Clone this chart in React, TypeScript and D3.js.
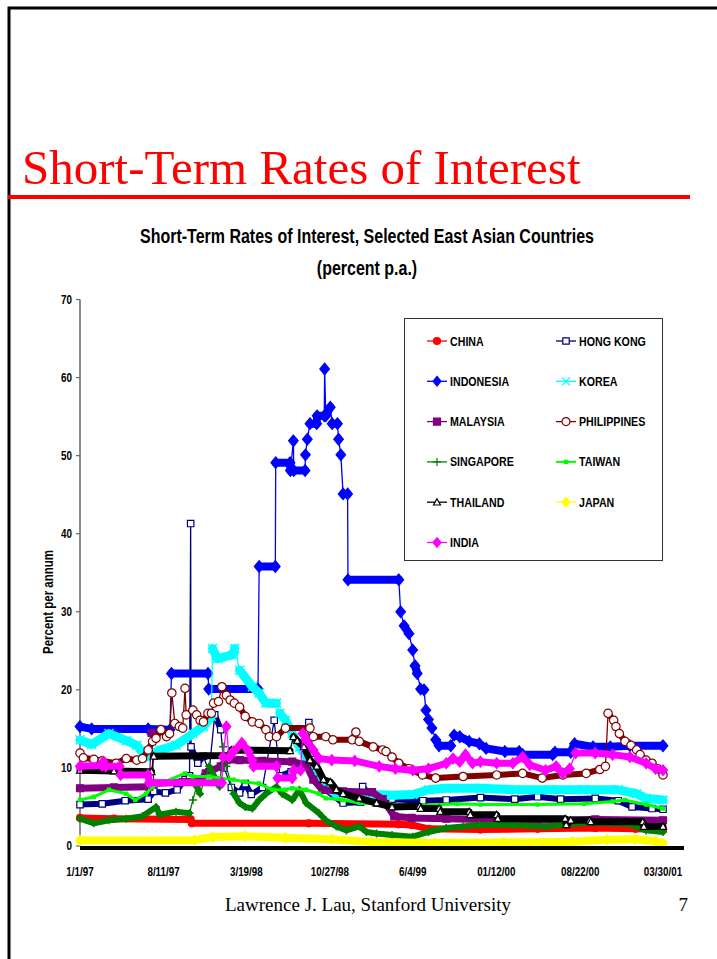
import React, { useEffect, useRef } from "react";
import * as d3 from "d3";

type Pt = [string, number];

// x axis: category labels placed at their dates
const xTickDates = ["1997-01-01", "1997-08-11", "1998-03-19", "1998-10-27", "1999-06-04", "2000-01-12", "2000-08-22", "2001-03-30"];
const xTickLabels = ["1/1/97", "8/11/97", "3/19/98", "10/27/98", "6/4/99", "01/12/00", "08/22/00", "03/30/01"];
const yTicks = [0, 10, 20, 30, 40, 50, 60, 70];

// values (percent p.a.)
const china: Pt[] = [
  ["1997-01-01", 3.6], ["1997-04-01", 3.5], ["1997-10-22", 3.4], ["1997-10-25", 2.9], ["1998-09-01", 2.9],
  ["1999-04-28", 2.8], ["1999-06-01", 2.7], ["1999-07-16", 2.2], ["1999-12-01", 2.1], ["2000-05-01", 2.2],
  ["2000-10-01", 2.3], ["2001-01-16", 2.2], ["2001-03-30", 2.1],
];
const hongKong: Pt[] = [
  ["1997-01-01", 5.3], ["1997-03-01", 5.4], ["1997-05-01", 5.8], ["1997-07-01", 6.0], ["1997-07-16", 7.0],
  ["1997-08-16", 6.8], ["1997-09-16", 7.2], ["1997-10-07", 8.5], ["1997-10-19", 9.0], ["1997-10-22", 41.3],
  ["1997-10-23", 12.7], ["1997-11-10", 10.6], ["1997-11-25", 11.5], ["1997-12-10", 9.5], ["1997-12-25", 16.8],
  ["1998-01-10", 14.9], ["1998-01-19", 10.0], ["1998-02-07", 7.5], ["1998-03-01", 6.8], ["1998-03-16", 8.0],
  ["1998-04-01", 6.6], ["1998-05-01", 7.5], ["1998-06-01", 16.1], ["1998-06-16", 9.0], ["1998-07-16", 9.5],
  ["1998-08-25", 10.5], ["1998-09-01", 15.8], ["1998-09-13", 11.9], ["1998-10-16", 7.2], ["1998-12-01", 5.5],
  ["1999-01-16", 5.6], ["1999-01-22", 7.6], ["1999-03-01", 5.5], ["1999-04-10", 6.0], ["1999-07-01", 5.8],
  ["1999-09-01", 5.9], ["1999-12-01", 6.2], ["2000-03-01", 6.0], ["2000-05-01", 6.3], ["2000-07-01", 6.0],
  ["2000-10-01", 6.1], ["2000-12-01", 5.8], ["2001-01-07", 5.0], ["2001-03-01", 4.8], ["2001-03-30", 4.7],
];
const indonesia: Pt[] = [
  ["1997-01-01", 15.3], ["1997-02-01", 15.0], ["1997-07-01", 15.0], ["1997-08-28", 14.9], ["1997-09-01", 22.1],
  ["1997-12-07", 22.1], ["1997-12-09", 20.1], ["1998-04-19", 20.1], ["1998-04-22", 35.8], ["1998-06-04", 35.8],
  ["1998-06-05", 49.1], ["1998-07-13", 49.1], ["1998-07-14", 48.1], ["1998-07-22", 51.9], ["1998-07-23", 48.1],
  ["1998-08-22", 48.1], ["1998-08-23", 50.1], ["1998-08-28", 52.1], ["1998-09-04", 54.1], ["1998-09-22", 54.1],
  ["1998-09-23", 55.1], ["1998-10-12", 55.1], ["1998-10-13", 61.1], ["1998-10-16", 55.1], ["1998-10-28", 56.2],
  ["1998-11-02", 54.1], ["1998-11-16", 54.1], ["1998-11-19", 52.1], ["1998-11-25", 50.1], ["1998-12-01", 45.1],
  ["1998-12-13", 45.1], ["1998-12-14", 34.1], ["1999-04-28", 34.1], ["1999-05-03", 30.0], ["1999-05-12", 28.2],
  ["1999-05-25", 27.2], ["1999-06-04", 25.1], ["1999-06-10", 23.1], ["1999-06-16", 22.1], ["1999-06-25", 20.1],
  ["1999-07-04", 20.0], ["1999-07-09", 17.4], ["1999-07-16", 16.2], ["1999-07-25", 15.1], ["1999-08-04", 13.6],
  ["1999-08-13", 12.85], ["1999-09-13", 12.85], ["1999-09-22", 14.2], ["1999-10-07", 14.0], ["1999-11-01", 13.4],
  ["1999-11-28", 13.1], ["1999-12-16", 12.5], ["2000-02-04", 12.1], ["2000-03-13", 12.1], ["2000-03-22", 11.7],
  ["2000-06-10", 11.7], ["2000-06-16", 12.0], ["2000-07-28", 12.0], ["2000-08-07", 13.1], ["2000-09-25", 12.7],
  ["2000-11-10", 12.7], ["2001-01-01", 12.85], ["2001-03-30", 12.85],
];
const korea: Pt[] = [
  ["1997-01-01", 13.6], ["1997-02-01", 13.0], ["1997-03-19", 14.4], ["1997-05-04", 13.5], ["1997-06-01", 12.9],
  ["1997-06-25", 11.4], ["1997-08-01", 12.3], ["1997-09-13", 12.9], ["1997-10-28", 14.4], ["1997-11-25", 15.3],
  ["1997-12-16", 16.6], ["1997-12-19", 25.3], ["1998-01-01", 24.0], ["1998-02-13", 24.5], ["1998-02-16", 25.3],
  ["1998-03-01", 22.5], ["1998-04-04", 20.4], ["1998-04-22", 19.6], ["1998-05-10", 18.3], ["1998-06-07", 18.3],
  ["1998-06-16", 17.0], ["1998-07-01", 16.1], ["1998-07-19", 14.4], ["1998-08-07", 12.7], ["1998-08-25", 11.4],
  ["1998-09-13", 10.2], ["1998-09-28", 8.9], ["1998-10-16", 7.6], ["1998-11-13", 6.7], ["1999-01-13", 6.7],
  ["1999-04-10", 6.5], ["1999-06-04", 6.6], ["1999-07-16", 7.2], ["1999-09-01", 7.4], ["1999-12-01", 7.4],
  ["2000-03-01", 7.2], ["2000-06-01", 7.2], ["2000-09-01", 7.2], ["2000-12-01", 7.2], ["2001-01-19", 6.7],
  ["2001-02-13", 6.1], ["2001-03-30", 5.9],
];
const malaysia: Pt[] = [
  ["1997-01-01", 7.4], ["1997-04-01", 7.5], ["1997-07-04", 7.6], ["1997-07-10", 14.5], ["1997-07-16", 8.0],
  ["1997-10-01", 8.2], ["1997-11-16", 8.3], ["1997-12-01", 9.3], ["1998-01-10", 10.2], ["1998-01-25", 11.0],
  ["1998-03-01", 11.0], ["1998-05-01", 10.9], ["1998-07-19", 10.8], ["1998-08-25", 10.4], ["1998-09-13", 8.5],
  ["1998-10-07", 7.2], ["1998-12-01", 7.0], ["1999-02-16", 6.9], ["1999-03-16", 6.0], ["1999-04-16", 3.8],
  ["1999-06-01", 3.6], ["1999-09-01", 3.5], ["1999-12-01", 3.4], ["2000-05-01", 3.3], ["2000-10-01", 3.4],
  ["2001-03-30", 3.3],
];
const philippines: Pt[] = [
  ["1997-01-01", 11.9], ["1997-01-10", 11.3], ["1997-02-07", 11.1], ["1997-03-01", 10.9], ["1997-04-07", 10.6],
  ["1997-05-04", 11.2], ["1997-06-01", 11.0], ["1997-06-16", 11.2], ["1997-07-01", 12.3], ["1997-07-13", 13.4],
  ["1997-07-22", 13.8], ["1997-08-04", 14.9], ["1997-08-19", 14.0], ["1997-08-27", 14.4], ["1997-09-02", 19.6],
  ["1997-09-10", 15.7], ["1997-09-22", 15.3], ["1997-10-01", 15.1], ["1997-10-07", 20.2], ["1997-10-10", 16.8],
  ["1997-10-28", 17.4], ["1997-11-07", 16.8], ["1997-11-16", 16.1], ["1997-11-25", 15.9], ["1997-12-07", 17.0],
  ["1997-12-16", 17.0], ["1997-12-22", 18.3], ["1998-01-04", 18.5], ["1998-01-13", 20.4], ["1998-01-25", 19.3],
  ["1998-02-04", 18.7], ["1998-02-15", 18.3], ["1998-03-01", 17.8], ["1998-03-16", 16.6], ["1998-04-04", 15.9],
  ["1998-04-22", 15.7], ["1998-05-10", 14.9], ["1998-05-19", 14.0], ["1998-06-07", 14.0], ["1998-07-01", 15.1],
  ["1998-09-04", 15.1], ["1998-09-13", 14.0], ["1998-10-16", 14.0], ["1998-11-04", 13.6], ["1998-12-25", 13.6],
  ["1999-01-04", 14.6], ["1999-01-13", 13.4], ["1999-02-19", 12.7], ["1999-03-16", 12.3], ["1999-03-25", 12.1],
  ["1999-04-10", 11.4], ["1999-04-28", 10.6], ["1999-05-25", 9.9], ["1999-06-30", 9.1], ["1999-08-04", 8.7],
  ["1999-10-16", 8.9], ["2000-01-13", 9.1], ["2000-03-22", 9.3], ["2000-05-13", 8.7], ["2000-07-07", 9.1],
  ["2000-09-07", 9.3], ["2000-10-13", 9.8], ["2000-10-28", 10.2], ["2000-11-04", 17.0], ["2000-11-19", 16.1],
  ["2000-11-25", 15.3], ["2000-12-04", 14.4], ["2000-12-19", 13.4], ["2001-01-04", 12.9], ["2001-01-19", 12.3],
  ["2001-01-28", 11.7], ["2001-02-13", 11.0], ["2001-03-01", 10.6], ["2001-03-16", 9.9], ["2001-03-30", 9.1],
];
const singapore: Pt[] = [
  ["1997-01-01", 3.5], ["1997-02-07", 2.9], ["1997-03-19", 3.3], ["1997-05-04", 3.5], ["1997-06-16", 3.8],
  ["1997-07-22", 5.0], ["1997-08-01", 4.0], ["1997-09-13", 4.4], ["1997-10-19", 4.2], ["1997-10-28", 5.9],
  ["1997-11-07", 7.6], ["1997-11-16", 6.7], ["1997-12-10", 10.2], ["1998-01-07", 7.6], ["1998-01-16", 12.7],
  ["1998-01-25", 10.2], ["1998-02-13", 6.7], ["1998-03-01", 5.5], ["1998-03-16", 5.0], ["1998-04-04", 4.8],
  ["1998-04-22", 5.9], ["1998-05-10", 6.7], ["1998-06-07", 7.6], ["1998-06-22", 6.7], ["1998-07-19", 5.9],
  ["1998-08-07", 7.2], ["1998-08-25", 5.5], ["1998-09-28", 4.2], ["1998-10-16", 3.3], ["1998-11-13", 2.5],
  ["1998-12-10", 2.0], ["1999-01-13", 2.5], ["1999-02-01", 1.8], ["1999-02-28", 1.6], ["1999-04-10", 1.4],
  ["1999-06-04", 1.2], ["1999-07-16", 1.8], ["1999-09-01", 2.3], ["1999-10-16", 2.5], ["1999-11-28", 2.7],
  ["2000-02-25", 2.7], ["2000-05-22", 2.5], ["2000-08-19", 2.9], ["2000-11-16", 2.9], ["2001-01-01", 2.8],
  ["2001-02-13", 2.0], ["2001-03-30", 1.8],
];
const taiwan: Pt[] = [
  ["1997-01-01", 5.9], ["1997-02-07", 6.3], ["1997-03-19", 7.2], ["1997-05-04", 6.7], ["1997-05-28", 5.9],
  ["1997-06-25", 6.7], ["1997-07-13", 7.6], ["1997-08-01", 8.0], ["1997-10-07", 9.3], ["1997-10-28", 8.9],
  ["1997-12-10", 8.9], ["1998-01-07", 8.7], ["1998-02-13", 8.5], ["1998-03-16", 8.2], ["1998-04-22", 8.0],
  ["1998-05-28", 7.2], ["1998-07-01", 7.2], ["1998-07-19", 7.4], ["1998-08-25", 7.2], ["1998-09-28", 6.7],
  ["1998-10-16", 6.1], ["1998-12-01", 5.9], ["1999-01-13", 5.5], ["1999-04-01", 5.3], ["1999-07-01", 5.2],
  ["1999-10-01", 5.4], ["1999-12-01", 5.3], ["2000-05-01", 5.3], ["2000-09-01", 5.4], ["2000-11-16", 5.7],
  ["2000-12-19", 5.9], ["2001-02-13", 5.3], ["2001-03-30", 4.8],
];
const thailand: Pt[] = [
  ["1997-01-01", 9.7], ["1997-04-01", 9.6], ["1997-07-10", 9.5], ["1997-07-16", 11.5], ["1998-02-04", 11.6],
  ["1998-02-07", 12.3], ["1998-07-13", 12.2], ["1998-07-22", 14.0], ["1998-08-01", 13.5], ["1998-08-19", 12.7],
  ["1998-09-04", 11.0], ["1998-09-22", 10.2], ["1998-10-10", 8.5], ["1998-10-28", 8.2], ["1998-11-13", 7.2],
  ["1998-12-01", 6.7], ["1999-01-13", 6.1], ["1999-02-28", 5.5], ["1999-04-10", 5.0], ["1999-06-22", 5.1],
  ["1999-06-25", 4.8], ["1999-08-13", 4.8], ["1999-08-16", 4.4], ["1999-11-01", 4.4], ["1999-11-04", 4.0],
  ["2000-01-13", 4.0], ["2000-01-16", 3.5], ["2000-07-13", 3.5], ["2000-07-16", 2.7], ["2000-07-28", 3.3],
  ["2000-09-16", 3.3], ["2000-09-19", 3.1], ["2001-02-04", 3.1], ["2001-02-07", 2.5], ["2001-03-30", 2.5],
];
const japan: Pt[] = [
  ["1997-01-01", 0.7], ["1997-11-01", 0.75], ["1997-12-20", 1.15], ["1998-03-15", 1.25], ["1998-07-01", 1.05],
  ["1998-11-01", 0.85], ["1999-02-15", 0.5], ["1999-08-01", 0.4], ["2000-02-01", 0.45], ["2000-08-01", 0.55],
  ["2000-11-01", 0.8], ["2001-01-15", 0.85], ["2001-03-10", 0.6], ["2001-03-30", 0.35],
];
const india: Pt[] = [
  ["1997-01-01", 10.2], ["1997-03-01", 10.3], ["1997-03-04", 10.8], ["1997-03-10", 10.2], ["1997-04-16", 10.2],
  ["1997-04-19", 9.1], ["1997-07-01", 9.1], ["1997-07-04", 8.1], ["1998-01-13", 8.1], ["1998-01-16", 11.4],
  ["1998-01-25", 15.3], ["1998-02-01", 11.4], ["1998-02-13", 12.1], ["1998-03-07", 13.2], ["1998-03-25", 12.1],
  ["1998-04-04", 11.0], ["1998-04-07", 10.2], ["1998-06-07", 10.2], ["1998-06-10", 8.7], ["1998-07-19", 8.7],
  ["1998-07-22", 9.7], ["1998-08-10", 9.7], ["1998-08-16", 14.4], ["1998-08-25", 13.6], ["1998-09-13", 12.3],
  ["1998-09-28", 11.2], ["1998-11-01", 11.0], ["1999-01-01", 10.9], ["1999-03-07", 10.2], ["1999-04-19", 9.9],
  ["1999-06-04", 9.7], ["1999-07-16", 9.9], ["1999-09-01", 10.6], ["1999-09-19", 11.2], ["1999-10-07", 10.8],
  ["1999-10-22", 11.7], ["1999-11-10", 10.6], ["1999-12-01", 10.8], ["2000-01-13", 10.6], ["2000-02-25", 10.6],
  ["2000-03-22", 11.4], ["2000-04-10", 10.4], ["2000-05-22", 9.7], ["2000-06-19", 10.2], ["2000-07-07", 9.3],
  ["2000-07-25", 9.9], ["2000-08-10", 11.9], ["2000-10-01", 11.9], ["2000-11-16", 11.7], ["2001-01-01", 11.4],
  ["2001-02-13", 10.6], ["2001-03-10", 9.9], ["2001-03-30", 9.7],
];

const seriesNames = ["CHINA", "HONG KONG", "INDONESIA", "KOREA", "MALAYSIA", "PHILIPPINES", "SINGAPORE", "TAIWAN", "THAILAND", "JAPAN", "INDIA"];
const seriesData = [china, hongKong, indonesia, korea, malaysia, philippines, singapore, taiwan, thailand, japan, india];
const seriesColors = ["#ff0000", "#000080", "#0000ff", "#00ffff", "#800080", "#800000", "#008000", "#00ff00", "#000000", "#ffff00", "#ff00ff"];

// look of each series: band width, marker shape, marker radius, hollow marker?
const styles = [
  { band: 7, marker: "circle", r: 3.5, hollow: false },
  { band: 6, marker: "square", r: 3.2, hollow: true },
  { band: 8, marker: "diamond", r: 4.8, hollow: false },
  { band: 9, marker: "x", r: 4.5, hollow: false },
  { band: 7, marker: "square", r: 3.5, hollow: false },
  { band: 6, marker: "circle", r: 4.2, hollow: true },
  { band: 6, marker: "plus", r: 4, hollow: false },
  { band: 3, marker: "square", r: 1.6, hollow: false },
  { band: 7, marker: "triangle", r: 3.5, hollow: true },
  { band: 8, marker: "diamond", r: 4.2, hollow: false },
  { band: 7, marker: "diamond", r: 4.5, hollow: false },
];

const ARIAL = "'Liberation Sans', Arial, sans-serif";
const TIMES = "'Liberation Serif', 'Times New Roman', serif";
const NARROW = 0.82;

const markerPath = (type: string, r: number) => {
  if (type === "circle") return d3.symbol(d3.symbolCircle, Math.PI * r * r)();
  if (type === "square") return `M${-r},${-r}h${2 * r}v${2 * r}h${-2 * r}Z`;
  if (type === "diamond") return `M0,${-r * 1.2}L${r},0L0,${r * 1.2}L${-r},0Z`;
  if (type === "triangle") return `M0,${-r}L${r},${r * 0.8}L${-r},${r * 0.8}Z`;
  if (type === "plus") return `M${-r},0H${r}M0,${-r}V${r}`;
  return `M${-r},${-r}L${r},${r}M${-r},${r}L${r},${-r}`;
};
const strokeOnly = (t: string) => t === "plus" || t === "x";

const App = () => {
  const ref = useRef<SVGSVGElement>(null);

  useEffect(() => {
    const svg = d3.select(ref.current);
    svg.selectAll("*").remove();
    const parse = d3.timeParse("%Y-%m-%d");

    const left = 80, right = 684, top = 299.5, bottom = 846;
    const x = d3.scaleTime()
      .domain([parse(xTickDates[0])!, parse(xTickDates[xTickDates.length - 1])!])
      .range([left, 663]);
    const y = d3.scaleLinear().domain([0, 70]).range([bottom, top]);

    const narrow = (g: any, tx: number, ty: number, txt: string, size: number, anchor: string) =>
      g.append("text")
        .attr("transform", `translate(${tx},${ty}) scale(${NARROW},1)`)
        .attr("text-anchor", anchor)
        .attr("font-family", ARIAL)
        .attr("font-weight", "bold")
        .attr("font-size", size)
        .attr("fill", "#000")
        .text(txt);

    // slide frame
    svg.append("path").attr("d", "M9,962V8H722").attr("fill", "none").attr("stroke", "#000").attr("stroke-width", 3);

    // slide title + red rule
    svg.append("text").attr("x", 22).attr("y", 184).attr("font-family", TIMES).attr("font-size", 49)
      .attr("fill", "#ff0000").text("Short-Term Rates of Interest");
    svg.append("rect").attr("x", 8).attr("y", 195).attr("width", 682).attr("height", 4).attr("fill", "#ff0000");

    // chart title
    narrow(svg, 367, 243, "Short-Term Rates of Interest, Selected East Asian Countries", 19.5, "middle");
    narrow(svg, 367, 275, "(percent p.a.)", 19.5, "middle");

    // y axis
    const yAxis = svg.append("g");
    yAxis.append("line").attr("x1", left).attr("x2", left).attr("y1", top).attr("y2", bottom)
      .attr("stroke", "#666").attr("stroke-width", 1.5);
    yTicks.forEach((t) => {
      yAxis.append("line").attr("x1", left - 4).attr("x2", left).attr("y1", y(t)).attr("y2", y(t))
        .attr("stroke", "#666").attr("stroke-width", 1.2);
      narrow(yAxis, left - 8, y(t) + 4.3, String(t), 12, "end");
    });
    svg.append("text")
      .attr("transform", `translate(53,602) rotate(-90) scale(${NARROW},1)`)
      .attr("text-anchor", "middle").attr("font-family", ARIAL).attr("font-weight", "bold")
      .attr("font-size", 14).text("Percent per annum");

    // series
    const plot = svg.append("g");
    const line = d3.line<[number, number]>();
    seriesData.forEach((data, si) => {
      const st = styles[si];
      const color = seriesColors[si];
      const pts: [number, number][] = data.map(([d, v]) => [x(parse(d)!), y(v)]);
      const g = plot.append("g");
      g.append("path").attr("d", line(pts)).attr("fill", "none").attr("stroke", color).attr("stroke-width", 1.3);
      // dense marker runs read as thick bands; steep jumps stay thin
      const runs: [number, number][][] = [];
      let cur: [number, number][] = [pts[0]];
      for (let i = 1; i < pts.length; i++) {
        const a = pts[i - 1], b = pts[i];
        const dy = Math.abs(b[1] - a[1]), dx = Math.abs(b[0] - a[0]);
        if (dy > 8 && dy > 2.5 * dx) {
          if (cur.length > 1) runs.push(cur);
          cur = [b];
        } else cur.push(b);
      }
      if (cur.length > 1) runs.push(cur);
      runs.forEach((r) => {
        g.append("path").attr("d", line(r)).attr("fill", "none").attr("stroke", color)
          .attr("stroke-width", st.band).attr("stroke-linejoin", "round").attr("stroke-linecap", "round");
      });
      const so = strokeOnly(st.marker);
      g.selectAll("path.mk").data(pts).join("path").attr("class", "mk")
        .attr("transform", (p) => `translate(${p[0]},${p[1]})`)
        .attr("d", markerPath(st.marker, st.r))
        .attr("fill", so ? "none" : st.hollow ? "#fff" : color)
        .attr("stroke", color)
        .attr("stroke-width", so ? 1.5 : 1.2);
    });

    // x axis (heavy black base line) and date labels
    svg.append("line").attr("x1", left).attr("x2", right).attr("y1", 848).attr("y2", 848)
      .attr("stroke", "#000").attr("stroke-width", 4);
    xTickDates.forEach((d, i) => narrow(svg, x(parse(d)!), 876, xTickLabels[i], 12, "middle"));

    // legend
    const lg = svg.append("g");
    lg.append("rect").attr("x", 404.5).attr("y", 318.5).attr("width", 258).attr("height", 242)
      .attr("fill", "#fff").attr("stroke", "#333").attr("stroke-width", 1);
    seriesNames.forEach((name, i) => {
      const col = i % 2, row = Math.floor(i / 2);
      const cx = col === 0 ? 437 : 566;
      const cy = 341 + row * 40.3;
      const st = styles[i];
      const color = seriesColors[i];
      lg.append("line").attr("x1", cx - 10).attr("x2", cx + 10).attr("y1", cy).attr("y2", cy)
        .attr("stroke", color).attr("stroke-width", i === 7 ? 2 : 1.3);
      const so = strokeOnly(st.marker);
      lg.append("path").attr("transform", `translate(${cx},${cy})`)
        .attr("d", markerPath(st.marker, Math.min(st.r, 4)))
        .attr("fill", so ? "none" : st.hollow ? "#fff" : color)
        .attr("stroke", color).attr("stroke-width", 1.2);
      narrow(lg, cx + 13, cy + 4.5, name, 13, "start");
    });

    // footer
    svg.append("text").attr("x", 368).attr("y", 911).attr("text-anchor", "middle").attr("font-family", TIMES)
      .attr("font-size", 19).text("Lawrence J. Lau, Stanford University");
    svg.append("text").attr("x", 688).attr("y", 911).attr("text-anchor", "end").attr("font-family", TIMES)
      .attr("font-size", 19).text("7");
  }, []);

  return (
    <svg ref={ref} width={717} height={959}
      style={{ position: "absolute", left: 0, top: 0, background: "#fff", display: "block" }} />
  );
};

export default App;
